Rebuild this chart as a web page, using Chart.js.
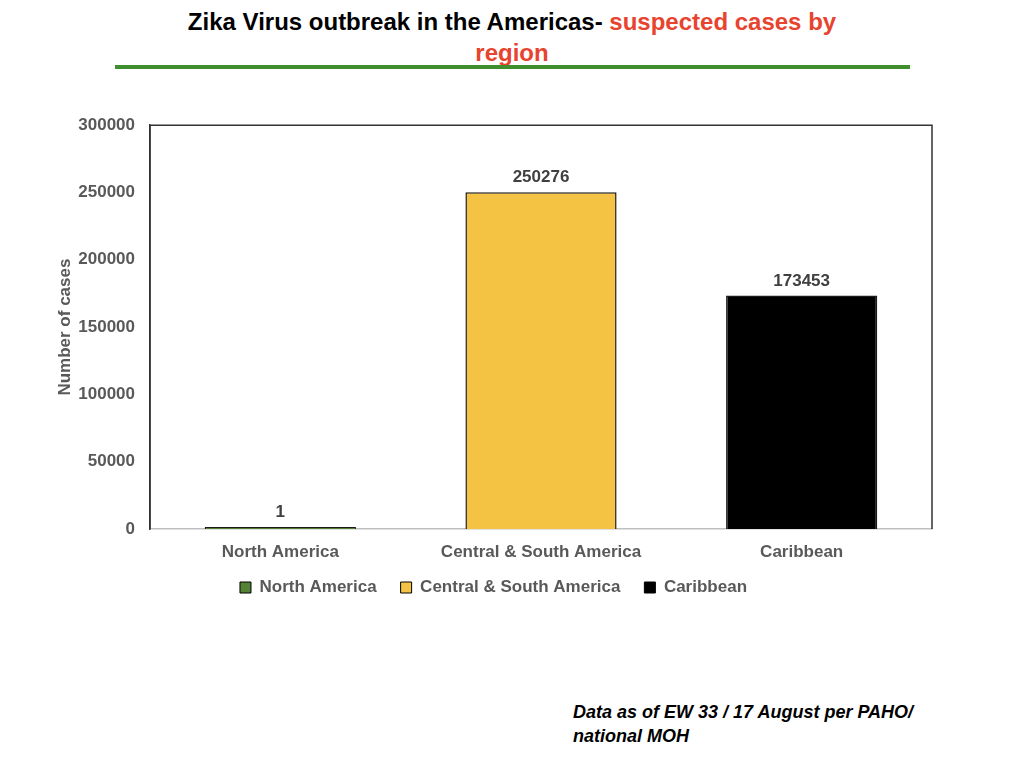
<!DOCTYPE html>
<html>
<head>
<meta charset="utf-8">
<script src="https://cdn.jsdelivr.net/npm/chart.js@4/dist/chart.umd.min.js"></script>
<style>
  body { margin: 0; background: #fff; width: 1024px; height: 768px; overflow: hidden; position: relative; font-family: "Liberation Sans", Arial, sans-serif; }
  .title { position: absolute; top: 6px; left: 0; width: 1024px; text-align: center; font-family: "Liberation Sans Narrow", "Liberation Sans", sans-serif; font-weight: bold; font-size: 24px; line-height: 31px; color: #000; }
  .title .red { color: #e8432e; }
  .rule { position: absolute; top: 65px; left: 115px; width: 795px; height: 4px; background: #3f8f2f; }
  .chart-box { position: absolute; top: 100px; left: 0; width: 1024px; height: 520px; }
  .note { position: absolute; top: 700px; left: 573px; font-weight: bold; font-style: italic; font-size: 18px; line-height: 24px; color: #000; }
</style>
</head>
<body>
<div class="title">Zika Virus outbreak in the Americas- <span class="red">suspected cases by<br>region</span></div>
<div class="rule"></div>
<div class="chart-box"><canvas id="myChart" width="1024" height="520"></canvas></div>
<div class="note">Data as of EW 33 / 17 August per PAHO/<br>national MOH</div>
<script>
const regions = ["North America", "Central & South America", "Caribbean"];
const cases = [1, 250276, 173453];
const barColors = ["#548235", "#f4c343", "#000000"];
const yTicks = [0, 50000, 100000, 150000, 200000, 250000, 300000];

const tickFont = { family: "'Liberation Sans', Arial, sans-serif", size: 17, weight: "bold" };
const grayText = "#595959";

// frame round the plot area (top, left, right)
const framePlugin = {
  id: "frame",
  // let the x labels hang below the (short) x scale box without being clipped
  afterLayout: (chart) => {
    chart.scales.x.bottom = chart.height;
  },
  afterDraw: (chart) => {
    const a = chart.chartArea;
    const ctx = chart.ctx;
    ctx.save();
    ctx.strokeStyle = "#333333";
    ctx.lineWidth = 1.5;
    ctx.beginPath();
    ctx.moveTo(a.left, a.bottom);
    ctx.lineTo(a.left, a.top);
    ctx.lineTo(a.right, a.top);
    ctx.lineTo(a.right, a.bottom);
    ctx.stroke();
    ctx.restore();
  },
};

// value labels above the bars
const valueLabels = {
  id: "valueLabels",
  afterDatasetsDraw: (chart) => {
    const ctx = chart.ctx;
    const meta = chart.getDatasetMeta(0);
    ctx.save();
    ctx.font = "bold 17px 'Liberation Sans', Arial, sans-serif";
    ctx.fillStyle = "#404040";
    ctx.textAlign = "center";
    ctx.textBaseline = "bottom";
    meta.data.forEach((bar, i) => {
      ctx.fillText(String(cases[i]), bar.x, bar.y - 6);
    });
    ctx.restore();
  },
};

const ctx = document.getElementById("myChart").getContext("2d");
const myChart = new Chart(ctx, {
  type: "bar",
  data: {
    labels: regions,
    datasets: [
      {
        data: cases,
        backgroundColor: barColors,
        borderColor: "#1a1a1a",
        borderWidth: 1.5,
        minBarLength: 2,
        categoryPercentage: 0.58,
        barPercentage: 1,
      },
    ],
  },
  options: {
    responsive: false,
    animation: false,
    devicePixelRatio: 1,
    layout: { padding: { left: 55, right: 92, top: 25, bottom: 14 } },
    plugins: {
      tooltip: { enabled: false },
      legend: {
        position: "bottom",
        onClick: null,
        labels: {
          color: grayText,
          font: tickFont,
          boxWidth: 11,
          boxHeight: 11,
          padding: 24,
          generateLabels: () =>
            regions.map((r, i) => ({
              text: r,
              fillStyle: barColors[i],
              strokeStyle: "#000000",
              lineWidth: 1,
              fontColor: grayText,
              index: i,
            })),
        },
      },
    },
    scales: {
      x: {
        grid: { display: false, drawTicks: false },
        border: { color: "#bfbfbf", width: 1.5 },
        ticks: { color: grayText, font: tickFont, padding: 13, maxRotation: 0 },
        afterFit: (scale) => { scale.height = 26; },
      },
      y: {
        min: 0,
        max: 300000,
        grid: { display: false, drawTicks: false },
        border: { color: "#333333", width: 1.5 },
        afterBuildTicks: (scale) => { scale.ticks = yTicks.map((v) => ({ value: v })); },
        ticks: { color: grayText, font: tickFont, padding: 15, callback: (v) => String(v) },
        title: { display: true, text: "Number of cases", color: grayText, font: tickFont, padding: 0 },
        afterFit: (scale) => { scale.width = 95; },
      },
    },
  },
  plugins: [framePlugin, valueLabels],
});
</script>
</body>
</html>
